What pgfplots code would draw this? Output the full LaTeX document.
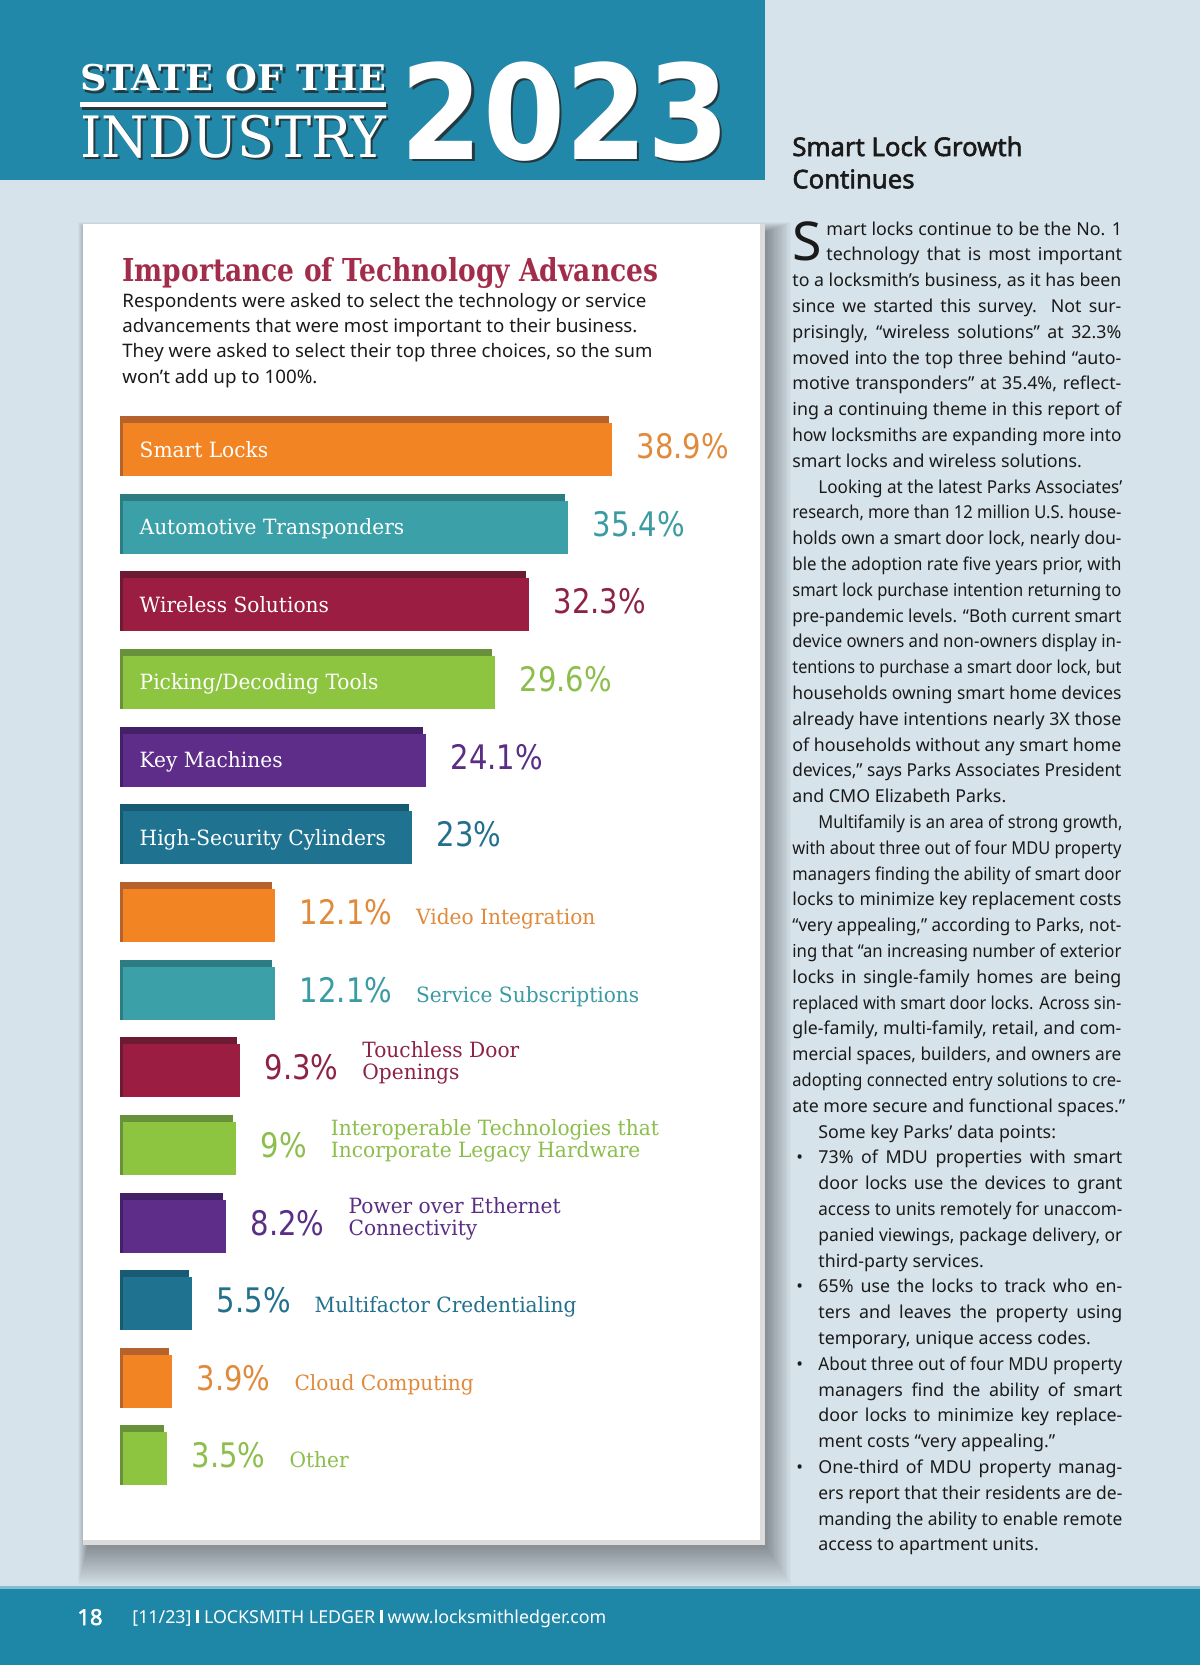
\documentclass[border=0pt]{standalone}
\usepackage{fontspec}
\usepackage{graphicx}
\usepackage{pgfplots}
\pgfplotsset{compat=1.18}
\pgfkeys{/pgf/number format/assume math mode=true}

\setmainfont{Noto Sans}
\newfontfamily\sansbold[FakeBold=2.2]{Noto Sans}
\newfontfamily\slabfam[FakeStretch=0.96]{DejaVu Serif}
\newfontfamily\numfam[FakeStretch=0.86]{DejaVu Sans}
\newfontfamily\headfam{DejaVu Serif}
\newfontfamily\yearfam{DejaVu Sans}

\definecolor{bg}{HTML}{D7E3EA}
\definecolor{band}{HTML}{2188AA}
\definecolor{foot}{HTML}{1E86A6}
\definecolor{ttl}{HTML}{A22D4A}
\definecolor{body}{HTML}{1A1A1A}
\definecolor{org}{HTML}{F28424}\definecolor{orgD}{HTML}{B6622C}\definecolor{orgT}{HTML}{E08A3C}
\definecolor{tea}{HTML}{3BA0A8}\definecolor{teaD}{HTML}{2C7C82}\definecolor{teaT}{HTML}{3A9BA3}
\definecolor{crm}{HTML}{9B1D41}\definecolor{crmD}{HTML}{6D1A33}\definecolor{crmT}{HTML}{8E2148}
\definecolor{grn}{HTML}{8DC541}\definecolor{grnD}{HTML}{67913A}\definecolor{grnT}{HTML}{8CBE4C}
\definecolor{pur}{HTML}{5E2C89}\definecolor{purD}{HTML}{432166}\definecolor{purT}{HTML}{5A2E84}
\definecolor{blu}{HTML}{1F7391}\definecolor{bluD}{HTML}{175A72}\definecolor{bluT}{HTML}{23708D}

\newcommand\namefont{\slabfam\fontsize{10.5pt}{10.5pt}\selectfont}
\newcommand\numfont{\numfam\fontsize{16.9pt}{17pt}\selectfont}
\newcommand\bodyfont{\fontsize{8.9pt}{12.9pt}\selectfont}

% bar with darker top and left edge
\newcommand\bevelbar[3]{%
  \addplot[xbar, bar shift=0pt, bar width=30pt, fill=#3D, draw=none, xshift=-1.5pt] coordinates {(#2,#1)};
  \addplot[xbar, bar shift=0pt, bar width=26.5pt, fill=#3, draw=none, yshift=-1.75pt] coordinates {(#2,#1)};}
% idx, value, colour, name inside bar
\newcommand\toprow[4]{\bevelbar{#1}{#2}{#3}%
  \node[anchor=base west, inner sep=0pt, text=white, font=\namefont, xshift=8pt, yshift=-5.5pt] at (axis cs:0,#1) {#4};
  \node[anchor=base west, inner sep=0pt, text=#3T, font=\numfont, xshift=12pt, yshift=-6.25pt] at (axis cs:#2,#1) {\pgfmathprintnumber{#2}\%};}
% idx, value, colour, name after value
\newcommand\lowrow[4]{\bevelbar{#1}{#2}{#3}%
  \node[anchor=base west, inner sep=0pt, text=#3T, xshift=12pt, yshift=-6.25pt] at (axis cs:#2,#1)
    {{\numfont\pgfmathprintnumber{#2}\%}\hspace{12pt}{\namefont\begin{tabular}[b]{@{}l@{}}#4\end{tabular}}};}

% justified column line
\newlength\lw
\newcommand\jl[2]{\settowidth\lw{#2}\ifdim\lw>#1\relax\resizebox{#1}{\height}{#2}\else\makebox[#1][s]{#2}\fi}
\newcommand\by[1]{235+25.8*(#1-1)}
\newcommand\J[4]{\node[anchor=base west, inner sep=0pt] at (#1,{\by{#2}}) {\jl{#3}{#4}};}
\newcommand\N[3]{\node[anchor=base west, inner sep=0pt] at (#1,{\by{#2}}) {#3};}
\newcommand\B[1]{\node[anchor=base west, inner sep=0pt] at (796,{\by{#1}}) {•};}

\begin{document}
\begin{tikzpicture}
\begin{scope}[x=0.5pt, y=-0.5pt]
  \useasboundingbox (0,0) rectangle (1200,1665);
  \fill[bg] (0,0) rectangle (1200,1665);
  % header band
  \fill[band] (0,0) rectangle (765,180);
  \begin{scope}[shift={(2.5,2.5)}, text=black!85, opacity=0.8]
    \node[anchor=base west, inner sep=0pt] at (79.6,90.7) {\resizebox{153pt}{13.15pt}{\headfam\bfseries STATE OF THE}};
    \fill[black!85] (79.6,101.7) rectangle (385.6,107.3);
    \node[anchor=base west, inner sep=0pt] at (79.6,157.3) {\resizebox{153pt}{21.15pt}{\headfam INDUSTRY}};
    \node[anchor=base west, inner sep=0pt] at (400.5,159.3) {\resizebox{164.25pt}{48.85pt}{\yearfam\bfseries 2023}};
  \end{scope}
  \node[anchor=base west, inner sep=0pt, text=white] at (79.6,90.7) {\resizebox{153pt}{13.15pt}{\headfam\bfseries STATE OF THE}};
  \fill[white] (79.6,101.7) rectangle (385.6,107.3);
  \node[anchor=base west, inner sep=0pt, text=white] at (79.6,157.3) {\resizebox{153pt}{21.15pt}{\headfam INDUSTRY}};
  \node[anchor=base west, inner sep=0pt, text=white] at (400.5,159.3) {\resizebox{164.25pt}{48.85pt}{\yearfam\bfseries 2023}};
  % footer band
  \fill[foot] (0,1586) rectangle (1200,1665);
  \fill[foot!55!white] (0,1586) rectangle (1200,1589);
  \node[anchor=base west, inner sep=0pt, text=white, font=\sansbold\fontsize{11pt}{12pt}\selectfont] at (77,1625) {18};
  \node[anchor=base west, inner sep=0pt, text=white] at (132,1623)
    {\resizebox{237pt}{\height}{\fontsize{8.9pt}{10pt}\selectfont [11/23] \rule{1.6pt}{6.4pt} LOCKSMITH LEDGER \rule{1.6pt}{6.4pt} www.locksmithledger.com}};
  % chart panel with shadow
  \foreach \k in {1,...,20}
    \fill[black, opacity=0.018] ({88-0.5*\k},{232-0.5*\k}) rectangle ({765+1.3*\k},{1545+2*\k});
  \fill[black!14] (83,224) rectangle (765,1545);
  \fill[white] (83,224) rectangle (760,1540);
  \node[anchor=base west, inner sep=0pt, text=ttl] at (122,281)
    {\resizebox{268pt}{\height}{\headfam\bfseries\fontsize{15.8pt}{18pt}\selectfont Importance of Technology Advances}};
  \begin{scope}[text=body, font=\fontsize{9.3pt}{12pt}\selectfont]
    \node[anchor=base west, inner sep=0pt] at (122,307.3) {\resizebox{262pt}{\height}{Respondents were asked to select the technology or service}};
    \node[anchor=base west, inner sep=0pt] at (122,332.7) {\resizebox{257.5pt}{\height}{advancements that were most important to their business.}};
    \node[anchor=base west, inner sep=0pt] at (122,357.3) {\resizebox{265pt}{\height}{They were asked to select their top three choices, so the sum}};
    \node[anchor=base west, inner sep=0pt] at (122,383.3) {\resizebox{97.5pt}{\height}{won’t add up to 100\%.}};
  \end{scope}
\end{scope}

\begin{axis}[
  at={(61.65pt,-203.59pt)}, anchor=north west,
  scale only axis, width=251.4pt, height=543.55pt,
  xmin=0, xmax=40, ymin=0.5, ymax=14.5, y dir=reverse,
  hide axis, clip=false]
  \toprow{1}{38.9}{org}{Smart Locks}
  \toprow{2}{35.4}{tea}{Automotive Transponders}
  \toprow{3}{32.3}{crm}{Wireless Solutions}
  \toprow{4}{29.6}{grn}{Picking/Decoding Tools}
  \toprow{5}{24.1}{pur}{Key Machines}
  \toprow{6}{23}{blu}{High-Security Cylinders}
  \lowrow{7}{12.1}{org}{Video Integration}
  \lowrow{8}{12.1}{tea}{Service Subscriptions}
  \lowrow{9}{9.3}{crm}{Touchless Door\\Openings}
  \lowrow{10}{9}{grn}{Interoperable Technologies that\\Incorporate Legacy Hardware}
  \lowrow{11}{8.2}{pur}{Power over Ethernet\\Connectivity}
  \lowrow{12}{5.5}{blu}{Multifactor Credentialing}
  \lowrow{13}{3.9}{org}{Cloud Computing}
  \lowrow{14}{3.5}{grn}{Other}
\end{axis}

\begin{scope}[x=0.5pt, y=-0.5pt]
  \node[anchor=base west, inner sep=0pt, font=\sansbold\fontsize{12.85pt}{16pt}\selectfont, text=body] at (792,156) {Smart Lock Growth};
  \node[anchor=base west, inner sep=0pt, font=\sansbold\fontsize{12.85pt}{16pt}\selectfont, text=body] at (792,188.3) {Continues};
  \begin{scope}[text=body, font=\bodyfont]
    \node[anchor=base west, inner sep=0pt, font=\fontsize{26.8pt}{28pt}\selectfont] at (792,260.8) {S};
    \J{826}{1}{147.85pt}{mart locks continue to be the No. 1}
    \J{826}{2}{147.85pt}{technology that is most important}
    \J{792}{3}{164.5pt}{to a locksmith’s business, as it has been}
    \J{792}{4}{164.5pt}{since we started this survey. Not sur-}
    \J{792}{5}{164.5pt}{prisingly, “wireless solutions” at 32.3\%}
    \J{792}{6}{164.5pt}{moved into the top three behind “auto-}
    \J{792}{7}{164.5pt}{motive transponders” at 35.4\%, reflect-}
    \J{792}{8}{164.5pt}{ing a continuing theme in this report of}
    \J{792}{9}{164.5pt}{how locksmiths are expanding more into}
    \N{792}{10}{smart locks and wireless solutions.}
    \J{818}{11}{152pt}{Looking at the latest Parks Associates’}
    \J{792}{12}{164.5pt}{research, more than 12 million U.S. house-}
    \J{792}{13}{164.5pt}{holds own a smart door lock, nearly dou-}
    \J{792}{14}{164.5pt}{ble the adoption rate five years prior, with}
    \J{792}{15}{164.5pt}{smart lock purchase intention returning to}
    \J{792}{16}{164.5pt}{pre-pandemic levels. “Both current smart}
    \J{792}{17}{164.5pt}{device owners and non-owners display in-}
    \J{792}{18}{164.5pt}{tentions to purchase a smart door lock, but}
    \J{792}{19}{164.5pt}{households owning smart home devices}
    \J{792}{20}{164.5pt}{already have intentions nearly 3X those}
    \J{792}{21}{164.5pt}{of households without any smart home}
    \J{792}{22}{164.5pt}{devices,” says Parks Associates President}
    \N{792}{23}{and CMO Elizabeth Parks.}
    \J{818}{24}{152pt}{Multifamily is an area of strong growth,}
    \J{792}{25}{164.5pt}{with about three out of four MDU property}
    \J{792}{26}{164.5pt}{managers finding the ability of smart door}
    \J{792}{27}{164.5pt}{locks to minimize key replacement costs}
    \J{792}{28}{164.5pt}{“very appealing,” according to Parks, not-}
    \J{792}{29}{164.5pt}{ing that “an increasing number of exterior}
    \J{792}{30}{164.5pt}{locks in single-family homes are being}
    \J{792}{31}{164.5pt}{replaced with smart door locks. Across sin-}
    \J{792}{32}{164.5pt}{gle-family, multi-family, retail, and com-}
    \J{792}{33}{164.5pt}{mercial spaces, builders, and owners are}
    \J{792}{34}{164.5pt}{adopting connected entry solutions to cre-}
    \N{792}{35}{ate more secure and functional spaces.”}
    \N{818}{36}{Some key Parks’ data points:}
    \B{37}\J{818}{37}{152pt}{73\% of MDU properties with smart}
    \J{818}{38}{152pt}{door locks use the devices to grant}
    \J{818}{39}{152pt}{access to units remotely for unaccom-}
    \J{818}{40}{152pt}{panied viewings, package delivery, or}
    \N{818}{41}{third-party services.}
    \B{42}\J{818}{42}{152pt}{65\% use the locks to track who en-}
    \J{818}{43}{152pt}{ters and leaves the property using}
    \N{818}{44}{temporary, unique access codes.}
    \B{45}\J{818}{45}{152pt}{About three out of four MDU property}
    \J{818}{46}{152pt}{managers find the ability of smart}
    \J{818}{47}{152pt}{door locks to minimize key replace-}
    \N{818}{48}{ment costs “very appealing.”}
    \B{49}\J{818}{49}{152pt}{One-third of MDU property manag-}
    \J{818}{50}{152pt}{ers report that their residents are de-}
    \J{818}{51}{152pt}{manding the ability to enable remote}
    \N{818}{52}{access to apartment units.}
  \end{scope}
\end{scope}
\end{tikzpicture}
\end{document}
